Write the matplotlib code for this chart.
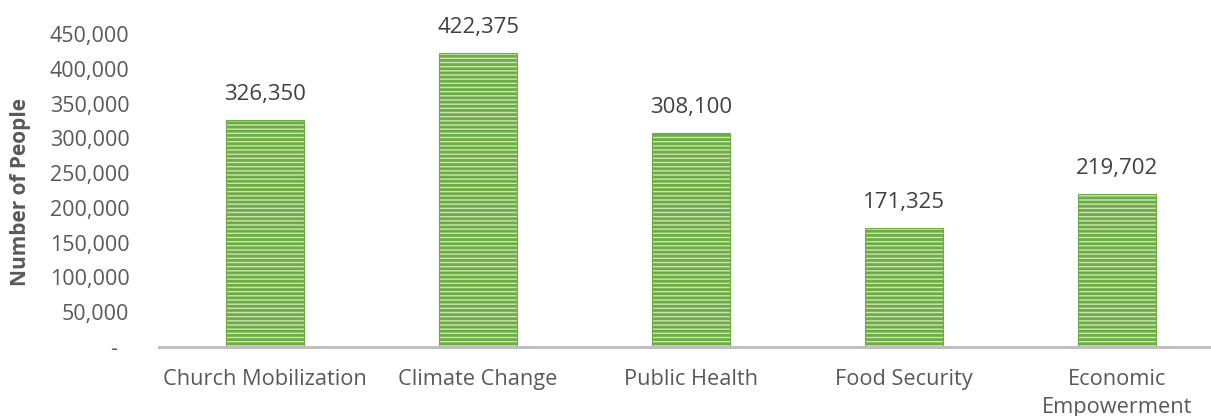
import numpy as np
import matplotlib
matplotlib.use('Agg')
import matplotlib.pyplot as plt
from matplotlib.ticker import FuncFormatter

categories = ['Church Mobilization', 'Climate Change', 'Public Health',
              'Food Security', 'Economic\nEmpowerment']
people = [326350, 422375, 308100, 171325, 219702]
yticks = [0, 50000, 100000, 150000, 200000, 250000, 300000, 350000, 400000, 450000]

plt.rcParams['font.family'] = ['Open Sans', 'DejaVu Sans']
plt.rcParams['hatch.linewidth'] = 2.0
text_grey = '#595959'

fig = plt.figure(figsize=(12.11, 4.16), dpi=100)
# axes placed in pixels: left edge 158, bottom 347 from top, top 34 from top
left = 158.5 / 1211
bottom = 1 - 347.0 / 416
top = 1 - 34.0 / 416
ax = fig.add_axes([left, bottom, 1 - left, top - bottom])

x = np.arange(len(categories))
bars = ax.bar(x, people, width=0.37, color='#cbe6b3', edgecolor='#6dac45',
              linewidth=0.8, hatch='----', zorder=2)

for xi, v in zip(x, people):
    ax.annotate('{:,}'.format(v), (xi, v), xytext=(0, 18.5), textcoords='offset points',
                ha='center', va='center', fontsize=16, color='#404040',
                annotation_clip=False)

ax.set_xlim(-0.5, -0.5 + (1211 - 158.5) / 213.0)
ax.set_ylim(0, 450000)
ax.set_xticks(x)
ax.set_xticklabels(categories, fontsize=15.7, color=text_grey, linespacing=1.45)
ax.set_yticks(yticks)
ax.yaxis.set_major_formatter(FuncFormatter(lambda v, p: '-  ' if v == 0 else '{:,.0f}'.format(v)))
for lab in ax.get_yticklabels():
    lab.set_fontsize(15.5)
    lab.set_color(text_grey)
ax.tick_params(axis='both', length=0)
ax.tick_params(axis='y', pad=21)
ax.tick_params(axis='x', pad=15.5)

ax.set_ylabel('Number of People', fontsize=15, fontweight='bold', color=text_grey)
ax.yaxis.set_label_coords(-0.121, 0.495)

for s in ['top', 'right', 'left']:
    ax.spines[s].set_visible(False)
ax.spines['bottom'].set_color('#bfbfbf')
ax.spines['bottom'].set_linewidth(2.2)

fig.savefig('out.png', dpi=100)
